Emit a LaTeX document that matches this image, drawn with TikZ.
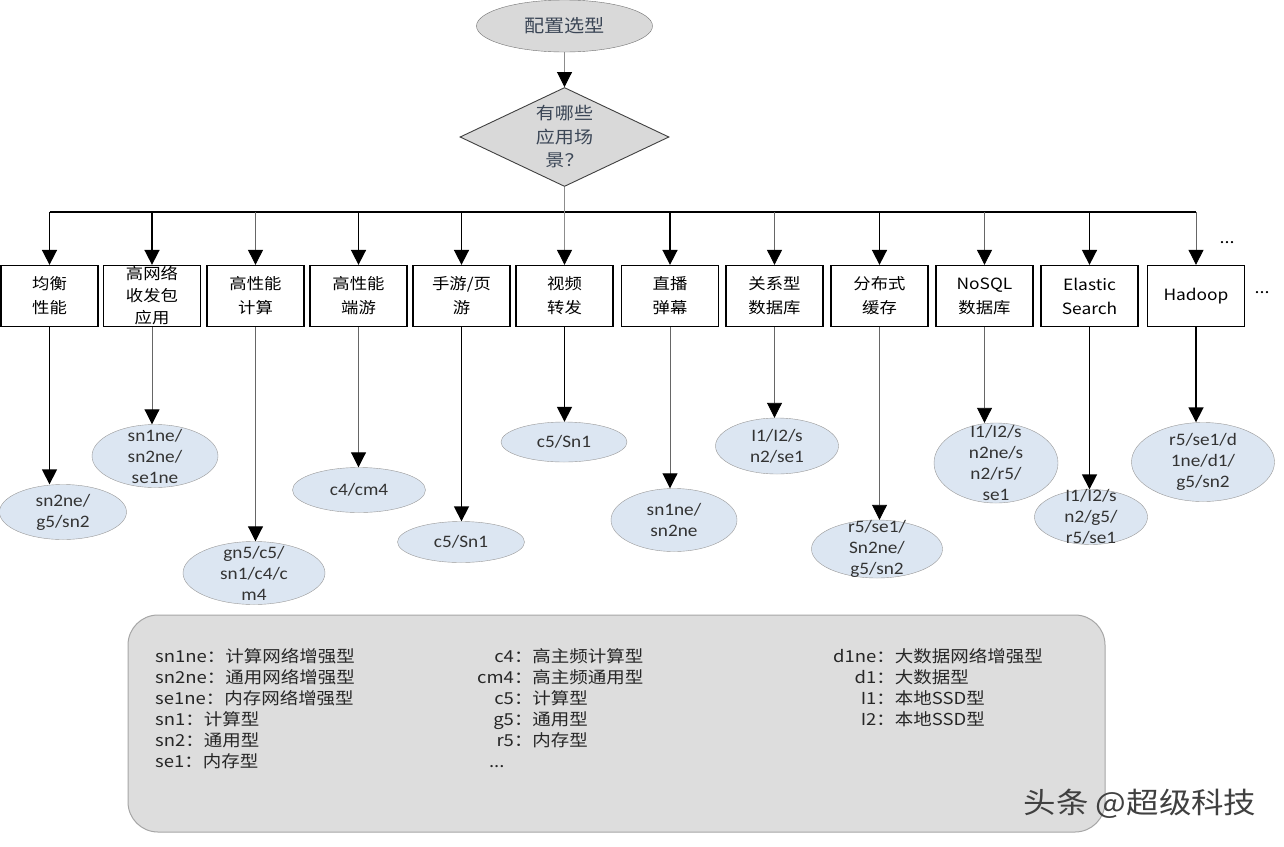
\documentclass[tikz,border=0pt]{standalone}
\usepackage{fontspec}
\setmainfont{Noto Sans CJK SC}[FakeStretch=1.12]
\newfontfamily\specfont{Carlito}[FakeStretch=1.1]
\usetikzlibrary{shapes.geometric,arrows.meta}
\definecolor{headgray}{HTML}{D9D9D9}
\definecolor{specblue}{HTML}{DCE6F2}
\definecolor{notegray}{HTML}{DDDDDD}
\definecolor{inkgray}{HTML}{3B4656}

\begin{document}
\begin{tikzpicture}[x=1pt,y=-1pt,
  arr/.style={-{Triangle[width=15pt,length=15pt,color=black]}},
  heavy/.style={arr, line width=1.7pt},
  light/.style={arr, line width=0.9pt, draw=black!60},
  start/.style={ellipse, draw=black!55, fill=headgray, minimum width=176pt, minimum height=52pt, inner sep=0pt, font=\fontsize{18}{22}\selectfont, text=inkgray},
  ask/.style={diamond, aspect=2.1, draw=black!75, line width=0.9pt, fill=headgray, minimum width=209pt, minimum height=99pt, inner sep=0pt, align=center, font=\fontsize{17}{23.5}\selectfont, text=inkgray},
  appbox/.style={draw, line width=1.3pt, fill=white, minimum width=97pt, minimum height=61pt, inner sep=0pt, align=center, font=\fontsize{15.5}{24}\selectfont},
  spec/.style={ellipse, draw=black!40, fill=specblue, inner sep=0pt},
  spectext/.style={align=center, inner sep=0pt, text=black!80, font=\specfont\fontsize{17.5}{21}\selectfont},
  note/.style={anchor=north west, inner sep=0pt, text=black!85, font=\fontsize{16.5}{21}\selectfont},
  stamp/.style={text=black!75, font=\fontsize{29}{32}\selectfont}]

\useasboundingbox[fill=white] (0,0) rectangle (1284,846);

\node[start] (top) at (564.5,26) {配置选型};
\node[ask] (ask) at (564.5,137) {有哪些\\应用场\\景？};

\node[appbox] (b1) at (49.5,296) {均衡\\性能};
\node[appbox, font=\fontsize{15.5}{22}\selectfont] (b2) at (152,296) {高网络\\收发包\\应用};
\node[appbox] (b3) at (255.5,296) {高性能\\计算};
\node[appbox] (b4) at (358.5,296) {高性能\\端游};
\node[appbox] (b5) at (461.5,296) {手游/页\\游};
\node[appbox] (b6) at (564.5,296) {视频\\转发};
\node[appbox] (b7) at (670,296) {直播\\弹幕};
\node[appbox] (b8) at (774.5,296) {关系型\\数据库};
\node[appbox] (b9) at (879.5,296) {分布式\\缓存};
\node[appbox] (b10) at (984.5,296) {NoSQL\\数据库};
\node[appbox] (b11) at (1089.5,296) {Elastic\\Search};
\node[appbox] (b12) at (1196,296) {Hadoop};

\node[font=\fontsize{16}{20}\selectfont] (more1) at (1227,243) {...};
\node[font=\fontsize{16}{20}\selectfont] (more2) at (1262,293) {...};

\draw[light, draw=black!45] (top) -- (ask);
\coordinate (bus) at (564.5,212);
\draw[line width=1.4pt] (b1.north |- bus) -- (b12.north |- bus);
\draw[light, draw=black!45] (ask.south) -- (b6.north);

\draw[heavy] (b1.north |- bus) -- (b1.north);
\draw[heavy] (b2.north |- bus) -- (b2.north);
\draw[light] (b3.north |- bus) -- (b3.north);
\draw[heavy] (b4.north |- bus) -- (b4.north);
\draw[heavy] (b5.north |- bus) -- (b5.north);
\draw[heavy] (b7.north |- bus) -- (b7.north);
\draw[light] (b8.north |- bus) -- (b8.north);
\draw[heavy] (b9.north |- bus) -- (b9.north);
\draw[light] (b10.north |- bus) -- (b10.north);
\draw[heavy] (b11.north |- bus) -- (b11.north);
\draw[light] (b12.north |- bus) -- (b12.north);

\node[spec, minimum width=127pt, minimum height=55pt, label={[spectext]center:sn2ne/\\g5/sn2}] (e1) at (63,512) {};
\node[spec, minimum width=126pt, minimum height=63pt, label={[spectext]center:sn1ne/\\sn2ne/\\se1ne}] (e2) at (155,456) {};
\node[spec, minimum width=142pt, minimum height=63pt, label={[spectext]center:gn5/c5/\\sn1/c4/c\\m4}] (e3) at (254,573) {};
\node[spec, minimum width=133pt, minimum height=45pt, label={[spectext]center:c4/cm4}] (e4) at (359,490) {};
\node[spec, minimum width=127pt, minimum height=41pt, label={[spectext]center:c5/Sn1}] (e5) at (461,542) {};
\node[spec, minimum width=126pt, minimum height=40pt, label={[spectext]center:c5/Sn1}] (e6) at (564,442) {};
\node[spec, minimum width=126pt, minimum height=63pt, label={[spectext]center:sn1ne/\\sn2ne}] (e7) at (674,520) {};
\node[spec, minimum width=123pt, minimum height=56pt, label={[spectext]center:I1/I2/s\\n2/se1}] (e8) at (777,446) {};
\node[spec, minimum width=131pt, minimum height=58pt, label={[spectext]center:r5/se1/\\Sn2ne/\\g5/sn2}] (e9) at (877,549) {};
\node[spec, minimum width=124pt, minimum height=80pt, label={[spectext]center:I1/I2/s\\n2ne/s\\n2/r5/\\se1}] (e10) at (996,463) {};
\node[spec, minimum width=113pt, minimum height=55pt, label={[spectext]center:I1/I2/s\\n2/g5/\\r5/se1}] (e11) at (1091,517) {};
\node[spec, minimum width=143pt, minimum height=79pt, label={[spectext]center:r5/se1/d\\1ne/d1/\\g5/sn2}] (e12) at (1203,462) {};

\draw[heavy] (b1.south) -- (b1.south |- e1.north);
\draw[light] (b2.south) -- (b2.south |- e2.north);
\draw[light] (b3.south) -- (b3.south |- e3.north);
\draw[light] (b4.south) -- (b4.south |- e4.north);
\draw[heavy] (b5.south) -- (b5.south |- e5.north);
\draw[heavy] (b6.south) -- (b6.south |- e6.north);
\draw[light] (b7.south) -- (b7.south |- e7.north);
\draw[light] (b8.south) -- (b8.south |- e8.north);
\draw[light] (b9.south) -- (b9.south |- e9.north);
\draw[light] (b10.south) -- (b10.south |- e10.north);
\draw[heavy] (b11.south) -- (b11.south |- e11.north);
\draw[heavy] (b12.south) -- (b12.south |- e12.north);

\draw[draw=black!35, fill=notegray, line width=1pt, rounded corners=30pt] (128,615) rectangle (1105,832);

\node[note] (n1) at (155,648) {\begin{tabular}{@{}l@{}}
sn1ne：计算网络增强型\\
sn2ne：通用网络增强型\\
se1ne：内存网络增强型\\
sn1：计算型\\
sn2：通用型\\
se1：内存型
\end{tabular}};
\node[note] (n2) at (477,648) {\begin{tabular}{@{}r@{}l@{}}
c4：&高主频计算型\\
cm4：&高主频通用型\\
c5：&计算型\\
g5：&通用型\\
r5：&内存型\\
...\kern28pt&
\end{tabular}};
\node[note] (n3) at (833,648) {\begin{tabular}{@{}r@{}l@{}}
d1ne：&大数据网络增强型\\
d1：&大数据型\\
I1：&本地SSD型\\
I2：&本地SSD型
\end{tabular}};

\node[stamp] (wm) at (1140,804) {头条 @超级科技};

\end{tikzpicture}
\end{document}
